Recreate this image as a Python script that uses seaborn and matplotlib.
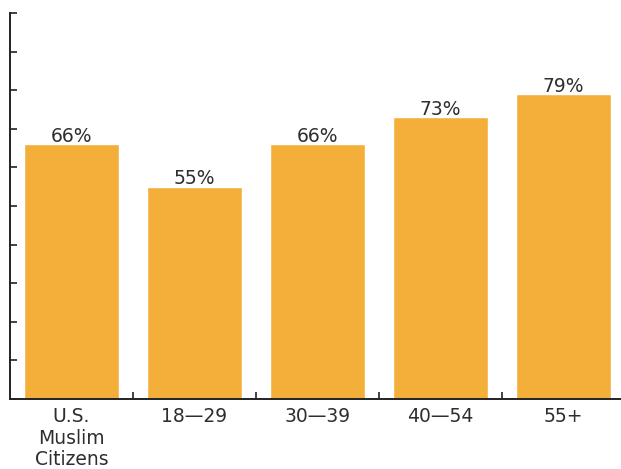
import matplotlib
matplotlib.use("Agg")
import matplotlib.pyplot as plt
import seaborn as sns
import pandas as pd
import numpy as np

categories = ["U.S.\nMuslim\nCitizens", "18\u201429", "30\u201439", "40\u201454", "55+"]
values = [66, 55, 66, 73, 79]
labels = ["66%", "55%", "66%", "73%", "79%"]

sns.set_theme(style="white")
plt.rcParams['font.family'] = ['DejaVu Sans']

W, H = 621, 469
fig = plt.figure(figsize=(W / 100, H / 100), dpi=100)
ax = fig.add_axes([10 / W, (H - 399) / H, 615 / W, (399 - 13) / H])

df = pd.DataFrame({"cat": categories, "val": values})
sns.barplot(data=df, x="cat", y="val", color="#F4AF3A", saturation=1, width=0.77, ax=ax)

ax.set_xlim(-0.5, 4.5)
ax.set_ylim(0, 100)
ax.set_xlabel("")
ax.set_ylabel("")

for i, (v, lab) in enumerate(zip(values, labels)):
    ax.text(i, v + 0.6, lab, ha="center", va="baseline", fontsize=13.5, color="#2e2e2e")

for side in ["top", "right"]:
    ax.spines[side].set_visible(False)
for side in ["left", "bottom"]:
    ax.spines[side].set_color("#222222")
    ax.spines[side].set_linewidth(1.4)

ax.set_yticks(np.arange(0, 101, 10))
ax.set_yticklabels([])
ax.tick_params(axis="y", which="major", direction="in", length=5, width=1.2, color="#222222", left=True)

ax.set_xticks(range(len(categories)))
ax.set_xticklabels(categories, fontsize=13.5, color="#2e2e2e", linespacing=1.15)
ax.set_xticks(np.arange(0.5, 4.5, 1), minor=True)
ax.tick_params(axis="x", which="major", length=0, pad=6)
ax.tick_params(axis="x", which="minor", direction="in", length=5, width=1.2, color="#222222", bottom=True)

fig.savefig("out.png", dpi=100)
